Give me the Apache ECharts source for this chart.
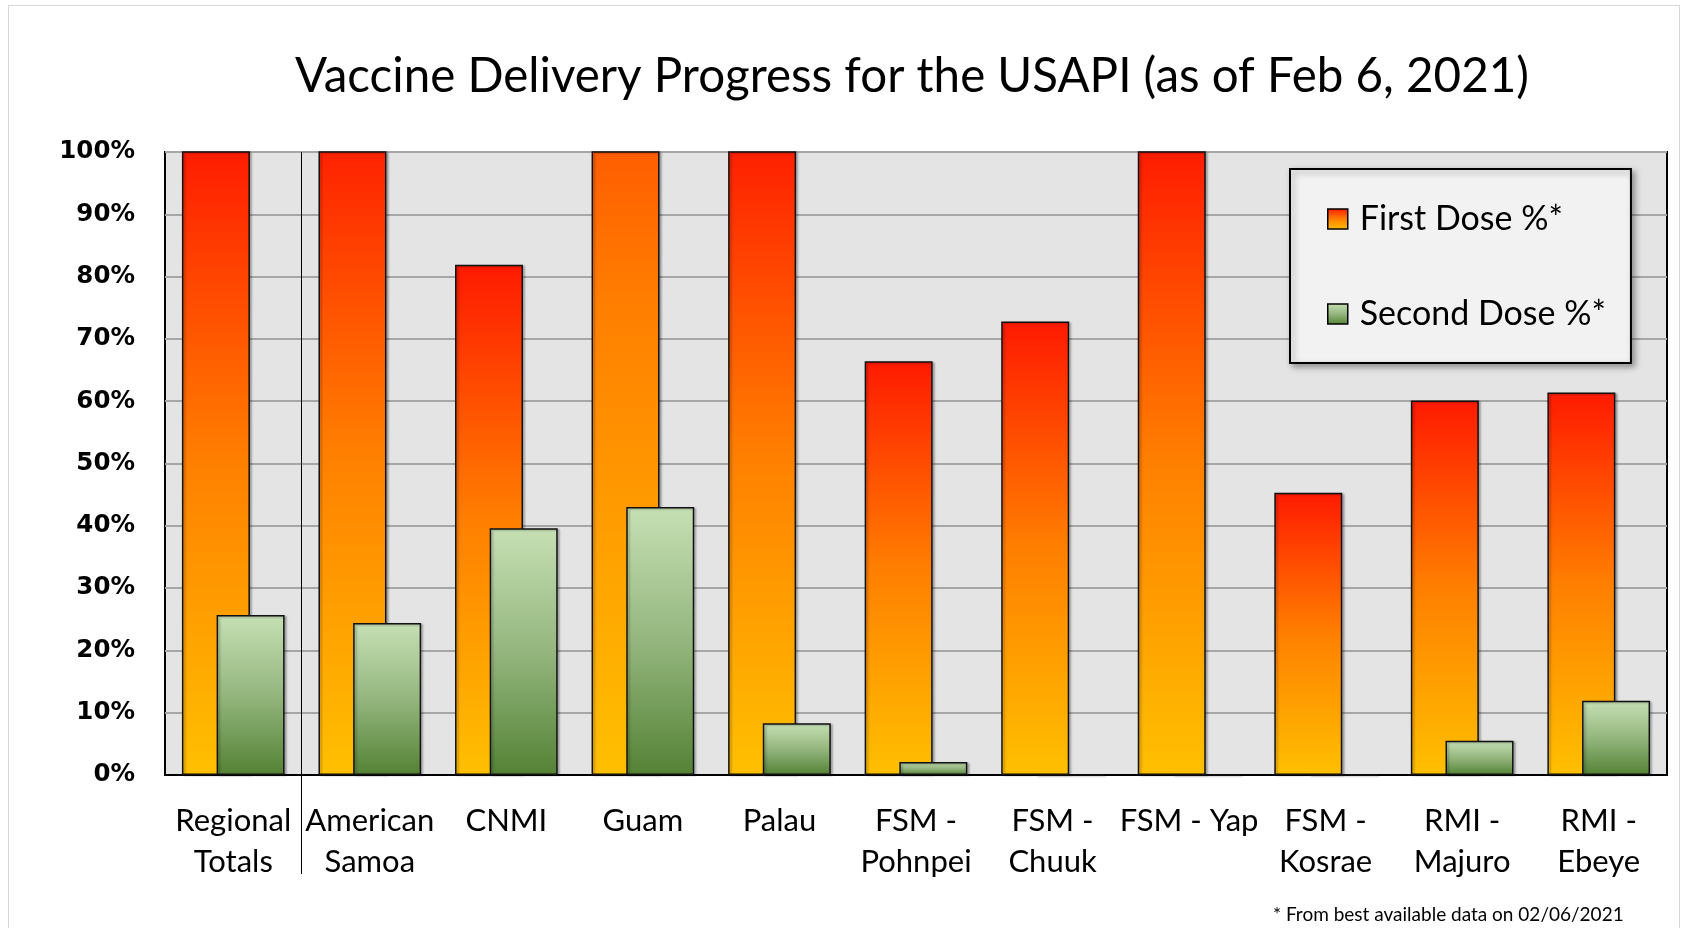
<!DOCTYPE html>
<html>
<head>
<meta charset="utf-8">
<script src="https://cdn.jsdelivr.net/npm/echarts@6/dist/echarts.min.js"></script>
<style>
  html, body { margin: 0; padding: 0; background: #fff; }
  #wrap { position: relative; width: 1681px; height: 928px; overflow: hidden; }
  #frame { position: absolute; left: 8px; top: 5px; right: 1px; bottom: -5px; border: 1px solid #d9d9d9; pointer-events: none; }
  #chart { position: absolute; left: 0; top: 0; width: 1681px; height: 928px; }
</style>
</head>
<body>
<div id="wrap">
  <div id="frame"></div>
  <div id="chart"></div>
</div>
<script>
const categories = ['Regional\nTotals', 'American\nSamoa', 'CNMI', 'Guam', 'Palau', 'FSM -\nPohnpei', 'FSM -\nChuuk', 'FSM - Yap', 'FSM -\nKosrae', 'RMI -\nMajuro', 'RMI -\nEbeye'];
const firstDose = [1.01, 1.04, 0.819, 1.50, 1.03, 0.664, 0.728, 1.01, 0.453, 0.601, 0.614];
const secondDose = [0.257, 0.244, 0.396, 0.430, 0.083, 0.021, 0, 0, 0, 0.055, 0.119];
const yTickMin = 0, yTickMax = 1, yTickStep = 0.1;
const seriesNames = ['First Dose %*', 'Second Dose %*'];
const titleText = 'Vaccine Delivery Progress for the USAPI (as of Feb 6, 2021)';
const footnote = '* From best available data on 02/06/2021';
const separatorAfter = 1; // divider between "Regional Totals" and the individual jurisdictions

// gradient stops, offset measured from top of bar
const firstStops = [[0, [255, 26, 0]], [0.5, [255, 127, 0]], [1, [255, 192, 0]]];
const secondStops = [[0, [198, 224, 180]], [0.5, [148, 182, 126]], [1, [84, 130, 53]]];

function rgb(c) { return 'rgb(' + c.map(Math.round).join(',') + ')'; }
function colorAt(stops, t) {
  for (let i = 0; i < stops.length - 1; i++) {
    const [o0, c0] = stops[i], [o1, c1] = stops[i + 1];
    if (t >= o0 && t <= o1) {
      const k = (t - o0) / (o1 - o0);
      return c0.map((v, j) => v + (c1[j] - v) * k);
    }
  }
  return stops[stops.length - 1][1];
}
function gradient(stops, visibleFrac) {
  const start = 1 - visibleFrac;
  const cs = [{ offset: 0, color: rgb(colorAt(stops, start)) }];
  stops.forEach(([o, c]) => {
    if (o > start) cs.push({ offset: (o - start) / visibleFrac, color: rgb(c) });
  });
  return new echarts.graphic.LinearGradient(0, 0, 0, 1, cs);
}

const firstData = firstDose.map(v => ({
  value: v,
  itemStyle: { color: gradient(firstStops, Math.min(1, yTickMax / v)) }
}));
// category boundaries (0..n) for the divider axis
const boundaries = Array.from({ length: categories.length + 1 }, (_, i) => String(i));

const chart = echarts.init(document.getElementById('chart'), null, { renderer: 'canvas' });
chart.setOption({
  backgroundColor: 'transparent',
  animation: false,
  title: [{
    text: titleText,
    left: 907, top: 48, textAlign: 'center',
    textStyle: { fontFamily: 'Lato', fontSize: 47.5, fontWeight: 'normal', color: '#000' }
  }, {
    text: footnote,
    left: 1268, top: 900,
    textStyle: { fontFamily: 'Lato', fontSize: 19, fontWeight: 'normal', color: '#000' }
  }],
  legend: {
    orient: 'vertical',
    left: 1290, top: 169,
    padding: [33, 25, 32, 37],
    itemGap: 61,
    itemWidth: 20, itemHeight: 20,
    icon: 'rect',
    backgroundColor: '#f2f2f2',
    borderColor: '#000', borderWidth: 2,
    shadowColor: 'rgba(0,0,0,0.35)', shadowBlur: 6, shadowOffsetX: 3, shadowOffsetY: 3,
    textStyle: { fontFamily: 'Lato', fontSize: 34, lineHeight: 34, color: '#000', padding: [0, 0, 0, 7] },
    itemStyle: { borderColor: '#000', borderWidth: 1.5 },
    data: seriesNames
  },
  grid: {
    left: 165, right: 14, top: 152, bottom: 153,
    show: true, backgroundColor: '#e4e4e4', borderColor: '#000', borderWidth: 2,
    containLabel: false
  },
  xAxis: [{
    type: 'category',
    data: categories,
    axisLine: { show: true, lineStyle: { color: '#000', width: 2 } },
    axisTick: { show: false },
    splitLine: { show: false },
    axisLabel: {
      interval: 0, margin: 25,
      fontFamily: 'Lato', fontSize: 31, lineHeight: 41, color: '#000', align: 'center'
    }
  }, {
    type: 'category',
    position: 'bottom',
    boundaryGap: false,
    data: boundaries,
    axisLine: { show: false },
    axisLabel: { show: false },
    axisTick: { show: true, interval: (i) => i === separatorAfter, length: 99, lineStyle: { color: '#000', width: 1 } },
    splitLine: { show: true, interval: (i) => i === separatorAfter, lineStyle: { color: '#000', width: 1 } }
  }],
  yAxis: {
    type: 'value',
    min: yTickMin, max: yTickMax, interval: yTickStep,
    axisLine: { show: false },
    axisTick: { show: false },
    splitLine: { show: true, lineStyle: { color: '#a6a6a6', width: 2 } },
    axisLabel: {
      margin: 30,
      formatter: (v) => Math.round(v * 100) + '%',
      fontFamily: 'DejaVu Sans', fontWeight: 'bold', fontSize: 24.5, color: '#000'
    }
  },
  series: [{
    name: seriesNames[0],
    type: 'bar',
    xAxisIndex: 0,
    barWidth: 68,
    barGap: '-49%',
    clip: true,
    data: firstData,
    itemStyle: {
      color: gradient(firstStops, 1),
      borderColor: '#111', borderWidth: 1.5,
      shadowColor: 'rgba(0,0,0,0.25)', shadowBlur: 2, shadowOffsetX: 2, shadowOffsetY: 1
    }
  }, {
    name: seriesNames[1],
    type: 'bar',
    xAxisIndex: 0,
    barWidth: 68,
    clip: true,
    data: secondDose,
    itemStyle: {
      color: gradient(secondStops, 1),
      borderColor: '#111', borderWidth: 1.5,
      shadowColor: 'rgba(0,0,0,0.25)', shadowBlur: 2, shadowOffsetX: 2, shadowOffsetY: 1
    }
  }]
});
</script>
</body>
</html>
